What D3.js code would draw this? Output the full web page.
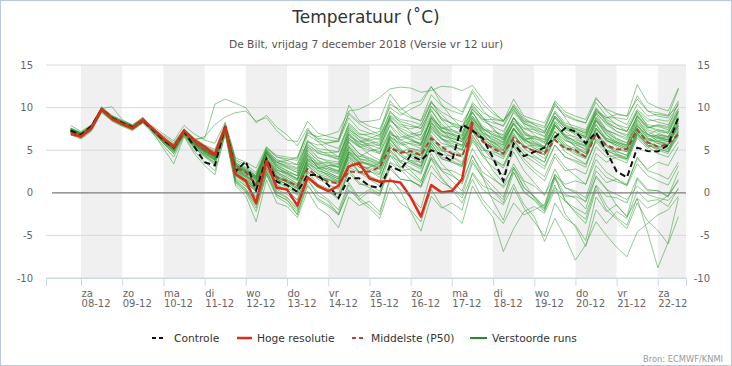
<!DOCTYPE html>
<html><head><meta charset="utf-8">
<script src="https://cdn.jsdelivr.net/npm/d3@7"></script>
<style>body{margin:0;background:#fff}svg{display:block}text{font-family:"DejaVu Sans",Verdana,sans-serif}</style>
</head><body><svg id="c" width="732" height="366"></svg>
<script>
// ---- data ----
const startTime = Date.UTC(2018, 11, 7, 18); // first value: vr 7 dec 18 UTC
const stepHours = 6;
const tickDays = ["2018-12-08","2018-12-09","2018-12-10","2018-12-11","2018-12-12","2018-12-13","2018-12-14","2018-12-15","2018-12-16","2018-12-17","2018-12-18","2018-12-19","2018-12-20","2018-12-21","2018-12-22"];
const dayNames = ["za","zo","ma","di","wo","do","vr","za","zo","ma","di","wo","do","vr","za"];
const dayLabels = ["08-12","09-12","10-12","11-12","12-12","13-12","14-12","15-12","16-12","17-12","18-12","19-12","20-12","21-12","22-12"];
const bandDays = ["2018-12-08","2018-12-10","2018-12-12","2018-12-14","2018-12-16","2018-12-18","2018-12-20","2018-12-22"];
const yTicks = [-10, -5, 0, 5, 10, 15];
const legendNames = ["Controle", "Hoge resolutie", "Middelste (P50)", "Verstoorde runs"];

const controle = [7.3, 6.8,7.8,9.8,8.8, 8.2,7.7,8.5,7.4, 6.2,5.3,7.2,5.4, 3.6,3.2,7.8,2.5, 3.7,0.3,4.0,1.3, 0.9,0.1,2.1,2.1, 0.9,-0.6,1.7,1.7, 0.8,0.6,3.1,2.6, 4.4,3.8,5.0,4.5, 3.7,8.0,7.3,6.4, 4.1,1.4,5.8,4.3, 4.8,5.3,6.5,7.6, 7.2,5.8,7.1,4.9, 2.5,1.8,5.3,4.9, 4.85,5.6,8.9];
const hogeResolutie = [6.9, 6.6,7.6,9.8,8.7, 8.1,7.6,8.6,7.5, 6.4,5.4,7.3,6.2, 5.4,4.5,7.7,2.2, 1.4,-1.2,3.7,0.6, 0.4,-1.5,1.8,0.8, 0.2,0.8,3.1,3.5, 1.7,1.3,1.4,1.2, -0.5,-2.8,0.9,0.05, 0.2,1.6,8.3];
const middelste = [7.2, 6.8,7.7,9.8,8.8, 8.2,7.6,8.4,7.3, 6.2,5.3,7.1,5.9, 5.0,4.3,7.6,3.0, 2.4,1.0,4.0,1.8, 1.4,0.8,2.8,1.9, 1.3,1.1,2.5,2.4, 2.5,3.0,5.3,4.7, 4.9,4.4,6.4,5.4, 4.6,4.3,7.4,6.0, 5.2,4.6,6.4,5.4, 4.9,4.6,6.2,5.2, 5.0,4.2,6.9,5.6, 5.1,5.1,7.4,5.9, 5.4,5.7,6.9];

const verstoordeRuns = [
 [7.3, 6.8,7.7,9.8,8.8, 8.2,7.7,8.5,7.4, 6.3,5.4,7.2,5.9, 5.0,4.3,7.6,2.6, 1.8,0.6,3.8,1.9, 1.2,0.4,3.2,2.2, 1.5,1.0,4.2,3.0, 2.5,2.1,5.4,4.4, 3.6,3.1,6.3,5.1, 4.6,4.2,7.5,6.1, 5.2,4.6,6.7,5.5, 4.9,4.5,6.6,5.3, 4.7,4.1,6.9,5.6, 5.1,4.8,7.3,5.9, 5.5,5.2,7.0],
 [7.6, 7.0,7.9,10.1,9.0, 8.3,7.8,8.6,7.2, 5.9,4.8,7.0,5.5, 4.4,3.6,7.4,1.5, 0.5,-1.5,2.5,0.2, -0.5,-1.8,1.8,0.6, 0.2,-0.6,3.0,2.4, 3.0,3.5,6.8,6.5, 6.8,7.2,9.6,8.1, 7.0,6.4,8.8,7.2, 6.3,5.8,8.4,7.5, 7.1,6.6,9.0,7.9, 7.4,7.0,9.5,8.6, 8.0,7.6,9.8,8.7, 8.3,8.0,9.9],
 [7.0, 6.5,7.4,9.6,8.6, 8.0,7.5,8.4,7.6, 6.7,5.9,7.5,6.4, 5.6,5.1,8.0,3.8, 3.0,2.2,4.9,3.6, 3.1,2.6,5.8,4.7, 4.3,3.9,7.4,6.6, 6.2,5.7,8.9,7.8, 7.5,7.9,10.6,9.5, 8.8,8.3,10.2,8.9, 7.6,6.2,8.0,6.4, 5.5,4.8,7.2,6.1, 5.8,5.5,8.4,7.3, 6.9,6.4,9.0,7.8, 7.2,7.0,9.3],
 [7.9, 7.2,8.0,9.9,10.1, 8.6,7.9,8.7,7.0, 5.2,3.4,6.6,4.6, 3.2,2.1,7.0,1.0, 0.0,-2.2,2.1,-0.5, -1.2,-2.5,1.4,0.1, -0.8,-2.0,1.2,-0.6, -1.5,-2.6,1.6,0.4, -0.5,-1.8,2.4,1.2, 0.6,-0.3,3.5,1.8, -1.0,-3.2,0.6,-1.8, -3.4,-5.1,-1.2,-3.0, -3.8,-5.6,-0.5,-2.2, -1.4,-2.8,1.6,0.2, 0.3,-0.4,2.5],
 [6.8, 6.3,7.2,9.4,8.5, 7.9,7.4,8.2,7.8, 6.9,6.1,7.9,6.9, 6.2,5.8,8.3,4.1, 3.6,2.9,5.4,4.2, 3.8,3.3,6.0,5.6, 5.8,6.2,10.3,8.5, 7.8,7.5,10.0,9.1, 9.8,10.4,12.4,11.0, 10.2,9.5,12.1,10.4, 9.3,8.5,10.1,8.6, 8.0,7.1,9.4,8.0, 7.5,7.0,9.6,8.8, 9.2,9.0,11.0,9.6, 9.4,9.1,10.2],
 [7.4, 6.9,7.8,9.9,8.9, 8.4,7.9,8.9,7.5, 6.2,5.0,7.1,6.3, 6.4,10.4,11.0,10.5, 10.0,8.2,9.1,7.7, 6.8,5.5,7.6,6.0, 5.0,4.2,6.9,5.5, 4.5,3.8,7.2,6.0, 5.2,4.8,8.0,6.8, 6.1,5.5,8.4,7.0, 6.5,6.0,8.8,7.1, 6.2,5.4,7.9,6.6, 5.8,5.0,7.6,6.2, 5.6,5.1,8.2,6.9, 6.4,6.0,8.0],
 [7.1, 6.6,7.5,9.7,8.7, 8.1,7.6,8.6,7.5, 6.4,5.7,7.4,6.2, 6.6,8.0,8.9,9.4, 9.6,8.4,8.8,7.3, 6.2,6.0,8.4,7.0, 6.6,6.3,9.2,8.1, 7.4,6.8,8.6,7.3, 6.4,5.6,7.8,6.3, 5.3,4.4,7.2,5.4, 4.0,3.2,5.8,4.5, 4.2,3.6,6.7,5.2, 4.5,4.0,7.4,6.4, 6.0,5.5,8.6,7.2, 6.6,6.2,7.8],
 [7.2, 6.7,7.6,9.8,8.7, 8.1,7.6,8.4,7.2, 6.0,5.0,7.0,5.6, 4.6,3.8,7.3,2.0, 1.0,-0.6,3.0,0.8, 0.4,-0.9,2.6,1.0, 0.5,-0.2,3.6,2.4, 2.0,1.4,5.0,3.6, 3.0,2.2,5.5,3.4, 2.2,1.0,4.4,2.0, 0.8,-0.5,2.8,0.6, -0.5,-1.8,1.9,-0.2, -0.6,-1.9,2.0,0.5, -1.5,-2.8,-0.7,-4.6, -8.8,-5.8,-0.6],
 [7.5, 7.0,7.8,9.9,9.0, 8.4,7.8,8.5,7.1, 5.8,4.6,6.8,5.3, 4.2,3.3,7.2,1.2, 0.2,-1.8,2.2,-0.3, -0.8,-2.6,0.8,-0.7, -1.4,-2.4,0.9,-0.9, -1.8,-3.0,0.6,-1.2, -2.0,-3.4,0.4,-1.6, -2.4,-3.6,0.8,-1.3, -2.9,-6.9,-4.2,-2.2, -1.6,-2.4,0.3,-1.0, -1.8,-2.5,0.9,-0.4, -0.6,-1.2,1.8,0.4, 0.2,-0.5,1.6],
 [7.0, 6.4,7.3,9.5,8.4, 7.8,7.3,8.2,6.9, 5.5,4.2,6.7,4.9, 3.6,2.6,6.8,0.8, -0.4,-3.4,1.5,-1.2, -1.6,-2.9,0.2,-1.8, -2.6,-4.1,-0.5,-1.5, -1.0,-2.2,1.8,0.2, -2.2,-4.5,-0.4,-1.8, -1.2,-2.0,2.4,0.8, 0.3,-0.8,3.0,1.2, -0.6,-1.9,0.9,-2.5, -4.0,-6.3,-2.0,-3.6, -2.2,-3.0,0.2,-1.0, -0.8,-1.6,0.6],
 [7.2, 6.9,7.7,9.7,8.8, 8.2,7.7,8.6,7.5, 6.5,5.6,7.3,6.0, 5.2,4.4,7.7,2.9, 2.0,1.2,4.0,2.4, 1.5,0.9,3.8,2.6, 2.2,1.6,4.8,3.4, 2.6,1.8,4.4,2.8, 1.5,0.6,3.2,1.6, 0.4,-0.6,2.2,0.4, -0.6,-1.4,1.0,-1.4, -2.8,-5.7,-3.0,-5.2, -7.9,-6.1,-3.4,-5.0, -6.4,-7.5,-4.6,-3.6, -2.6,-2.0,-0.4],
 [7.4, 6.9,7.8,9.8,8.9, 8.3,7.8,8.5,7.3, 6.1,5.2,7.1,5.7, 4.8,4.0,7.5,2.3, 1.3,0.1,3.4,1.3, 0.8,-0.2,2.9,1.6, 1.0,0.4,3.9,2.5, 1.9,1.3,4.8,3.1, 2.1,1.2,4.6,2.6, 1.4,0.2,3.8,1.8, 0.2,-1.2,2.4,0.2, -0.9,-2.2,1.7,-0.8, -2.4,-3.6,0.4,-2.0, -3.1,-4.2,-1.2,-3.3, -4.4,-6.0,-2.8],
 [7.3, 6.7,7.6,9.9,8.8, 8.2,7.6,8.4,7.3, 6.2,5.3,7.3,6.0, 5.2,4.6,7.8,3.3, 2.5,1.6,4.6,3.1, 2.3,1.7,4.9,3.8, 3.0,2.6,5.9,4.6, 4.1,3.6,6.6,5.0, 4.4,3.9,7.2,5.8, 5.5,5.1,8.2,6.6, 5.9,5.4,7.4,6.1, 5.7,5.3,7.6,6.2, 5.6,5.2,8.0,6.4, 5.8,5.3,7.6,6.0, 5.4,5.0,6.8],
 [7.1, 6.6,7.5,9.7,8.6, 8.0,7.5,8.3,7.4, 6.4,5.5,7.3,6.1, 5.1,4.4,7.5,2.1, 1.2,0.3,3.2,1.2, 0.6,-0.3,2.4,1.8, 1.6,1.2,4.8,4.2, 4.9,5.2,8.4,7.6, 7.0,6.8,9.2,7.4, 6.2,5.6,8.0,6.5, 5.4,4.6,6.2,4.8, 4.0,3.1,5.6,4.2, 3.8,3.3,6.2,4.9, 4.5,4.2,7.0,5.6, 5.2,4.8,7.5],
 [7.3, 6.9,7.7,9.8,8.7, 8.1,7.7,8.6,7.4, 6.3,5.5,7.2,5.9, 4.9,4.2,7.6,2.8, 2.2,1.3,4.4,2.8, 2.0,1.4,4.4,3.6, 3.2,3.0,6.4,5.6, 5.8,6.0,9.1,8.4, 8.0,7.5,10.1,8.8, 8.1,7.6,9.8,8.4, 7.8,7.2,9.4,8.1, 7.7,7.3,10.4,9.2, 8.6,8.2,11.0,9.8, 9.3,9.0,12.7,10.6, 10.0,9.6,12.3],
 [7.5, 7.0,7.8,9.9,8.9, 8.3,7.8,8.6,7.3, 6.1,5.1,7.0,5.6, 4.6,3.9,7.3,1.8, 0.8,-0.8,2.8,0.4, -0.2,-1.2,2.0,0.9, 0.2,-0.8,2.7,1.2, 0.6,-0.1,3.1,1.6, 1.4,0.8,4.0,2.6, 2.0,1.2,4.4,2.4, 1.6,0.8,3.4,1.4, 0.8,-0.3,2.8,0.6, 0.2,-0.6,3.2,1.8, 1.3,0.9,4.2,2.6, 2.2,1.6,3.6],
 [7.2, 6.8,7.6,9.7,8.7, 8.2,7.7,8.5,7.5, 6.4,5.6,7.4,6.2, 5.3,4.7,7.9,3.5, 2.9,2.0,5.1,3.8, 3.4,2.9,6.2,5.0, 4.5,4.2,7.6,6.2, 5.4,4.6,7.4,5.8, 5.0,4.6,8.2,7.3, 6.8,6.3,9.4,7.8, 7.0,6.4,8.8,7.2, 6.4,5.8,8.3,6.7, 6.0,5.4,8.6,7.0, 6.3,5.9,8.4,6.8, 6.5,6.2,8.6],
 [7.4, 6.8,7.7,9.8,8.8, 8.2,7.7,8.5,7.4, 6.3,5.3,7.2,5.8, 4.9,4.1,7.4,2.4, 1.6,0.7,3.6,1.6, 1.0,0.1,3.4,2.8, 3.2,3.3,6.6,6.0, 6.4,6.8,10.4,9.7, 10.5,10.8,12.5,10.4, 8.8,7.6,9.5,7.4, 6.0,5.0,7.0,5.2, 4.4,3.6,6.4,4.8, 4.1,3.4,6.0,4.6, 4.0,3.5,6.6,5.4, 5.8,5.6,8.2],
 [7.3, 6.7,7.6,9.8,8.7, 8.1,7.6,8.3,7.1, 5.9,4.8,6.8,5.3, 4.5,3.8,7.1,1.6, 0.8,-0.4,2.9,1.0, 0.2,-0.8,2.3,0.8, 0.4,-0.6,2.4,1.0, 0.9,0.2,3.5,2.6, 2.8,2.4,5.4,4.0, 3.6,3.0,6.0,4.4, 3.8,3.2,5.6,4.0, 2.8,1.9,4.6,3.0, 2.0,1.0,3.9,2.4, 1.6,0.8,3.4,2.0, 1.4,0.9,3.2],
 [7.1, 6.6,7.5,9.6,8.6, 8.0,7.5,8.4,7.5, 6.5,5.7,7.5,6.3, 5.5,4.9,8.1,3.9, 3.3,2.4,5.3,4.4, 4.2,4.0,7.4,6.3, 5.6,5.2,8.0,6.8, 6.9,7.2,10.8,9.4, 8.8,8.5,11.5,10.2, 9.6,9.2,11.8,9.7, 8.4,7.8,9.9,8.2, 7.4,6.6,9.0,7.6, 6.8,6.4,9.3,8.2, 7.6,7.2,9.6,8.4, 8.6,8.4,10.4],
 [7.2, 6.8,7.7,9.8,8.7, 8.1,7.6,8.5,7.3, 6.2,5.2,7.1,5.8, 4.9,4.2,7.5,2.5, 1.9,1.0,4.2,2.5, 1.8,1.1,4.0,3.2, 2.6,2.2,5.4,3.9, 3.2,2.7,5.8,4.3, 3.6,3.0,6.2,4.5, 4.3,3.6,6.8,4.6, 2.6,1.2,3.0,0.6, -0.4,-1.6,2.2,0.6, 0.0,-1.1,2.6,1.2, 1.6,1.0,4.0,2.8, 3.6,3.2,5.4],
 [7.6, 7.1,7.9,10.0,9.1, 8.5,8.0,8.8,7.6, 6.4,5.4,7.3,6.0, 5.2,4.5,7.8,3.1, 2.4,1.5,4.6,3.4, 2.9,2.4,5.6,4.8, 4.7,4.8,7.8,6.5, 6.0,5.5,7.9,6.2, 5.7,5.2,7.8,6.7, 6.4,6.0,8.6,7.4, 7.2,6.8,9.6,8.4, 8.2,7.8,10.2,9.0, 8.5,8.2,10.6,9.0, 8.0,7.2,9.6,7.8, 7.4,7.0,9.5],
 [7.3, 6.8,7.7,9.8,8.8, 8.3,7.8,8.6,7.4, 6.2,5.3,7.2,5.8, 5.0,4.4,7.7,3.0, 2.1,1.1,4.1,2.2, 1.6,0.8,3.9,2.9, 2.4,1.8,5.0,3.7, 3.4,2.8,5.9,4.6, 4.8,4.4,7.4,6.3, 6.0,5.6,8.8,7.5, 6.8,6.2,8.2,6.6, 5.9,5.2,7.9,6.5, 6.2,5.8,8.9,7.4, 6.8,6.2,8.7,6.9, 6.1,5.6,7.9],
 [7.0, 6.5,7.4,9.6,8.5, 7.9,7.4,8.3,7.2, 6.0,5.0,7.0,5.6, 4.7,3.9,7.3,2.2, 1.4,0.4,3.5,1.5, 1.0,0.2,3.3,2.2, 1.8,1.2,4.6,3.5, 3.3,2.9,6.2,4.9, 4.6,4.1,6.8,5.0, 4.2,3.4,6.4,4.2, 3.0,2.1,4.8,2.6, 1.2,-0.2,1.9,-1.0, -2.2,-3.1,0.8,-1.5, -2.9,-3.8,-0.6,-1.8, -1.2,-0.3,1.4],
 [7.4, 6.9,7.8,9.9,8.9, 8.3,7.8,8.7,7.6, 6.5,5.6,7.4,6.2, 5.4,4.8,8.0,3.6, 2.7,1.9,5.0,3.9, 3.5,3.3,6.8,6.0, 5.9,6.0,9.4,8.3, 8.4,8.6,11.6,10.0, 9.0,8.4,10.8,8.6, 7.4,6.7,9.5,7.6, 6.6,5.9,8.1,6.4, 5.3,4.5,7.2,5.4, 5.0,4.3,7.6,6.0, 5.9,5.6,9.2,7.6, 7.9,7.6,9.8],
 [7.1, 6.6,7.5,9.7,8.6, 8.0,7.4,8.3,7.1, 5.8,4.6,6.9,5.2, 4.3,3.4,7.0,1.4, 0.4,-1.0,2.6,0.0, -0.6,-2.0,1.6,-0.3, -1.0,-2.6,0.4,-0.8, 0.2,-0.4,3.6,3.0, 3.8,3.6,6.6,5.4, 5.4,5.0,7.8,6.2, 5.6,5.0,7.6,6.3, 6.4,6.0,8.8,7.6, 7.6,7.2,9.8,8.3, 7.2,6.6,8.9,7.4, 7.0,6.6,8.6],
 [7.3, 6.8,7.7,9.8,8.8, 8.2,7.7,8.5,7.4, 6.2,5.3,7.2,5.9, 5.0,4.3,7.6,2.6, 1.6,0.4,3.6,1.6, 1.0,0.2,3.2,1.8, 1.6,0.9,4.4,3.0, 3.0,2.4,5.6,3.6, 2.6,1.4,4.0,1.8, 0.4,-1.2,1.6,-0.8, -2.2,-3.6,-1.2,-2.6, -2.0,-1.4,2.1,1.0, 1.4,1.0,4.6,3.6, 4.2,4.0,7.0,5.6, 5.0,4.6,7.2],
 [7.2, 6.7,7.6,9.7,8.7, 8.1,7.6,8.4,7.4, 6.3,5.5,7.3,6.0, 5.1,4.5,7.7,3.2, 2.6,1.8,4.8,3.3, 2.6,2.0,5.2,4.1, 3.8,3.6,7.0,5.8, 5.2,4.8,8.0,6.7, 6.2,5.6,8.6,7.2, 6.9,6.6,9.8,8.6, 8.2,7.9,10.4,8.8, 8.0,7.6,10.8,9.5, 9.0,8.6,11.2,9.6, 8.6,8.0,10.4,9.0, 9.2,9.0,12.2],
 [7.5, 7.0,7.8,9.9,8.9, 8.4,7.9,8.6,7.2, 6.0,4.9,6.9,5.4, 4.4,3.5,7.1,1.3, 0.2,-1.4,2.4,-0.2, -0.9,-2.2,1.0,-0.9, -1.6,-2.6,0.2,-0.4, 0.4,-0.2,2.8,1.6, 1.4,0.8,4.2,2.8, 2.6,2.0,5.2,3.2, 1.8,0.6,2.4,0.0, -0.8,-2.0,0.6,-0.4, -0.4,-1.0,1.8,0.4, -0.2,-0.8,0.8,-0.2, -0.6,-0.9,0.4],
 [7.3, 6.8,7.7,9.8,8.7, 8.1,7.6,8.5,7.4, 6.3,5.4,7.2,5.9, 5.0,4.3,7.5,2.9, 2.3,1.4,4.4,2.7, 2.2,1.5,4.7,3.4, 3.0,2.5,5.6,4.3, 4.0,3.5,6.4,4.6, 3.8,3.2,6.0,4.9, 4.8,4.5,7.6,6.0, 5.4,4.9,7.5,6.2, 5.8,5.4,8.2,6.8, 6.0,5.6,8.4,6.8, 5.8,5.2,7.8,6.4, 6.0,5.6,7.6],
 [7.2, 6.7,7.6,9.8,8.8, 8.2,7.6,8.4,7.2, 6.0,5.0,7.0,5.6, 4.8,4.0,7.4,2.2, 1.4,0.5,3.6,2.0, 1.3,0.6,3.8,3.0, 2.8,2.5,6.2,5.4, 5.0,4.6,7.2,5.2, 4.2,3.5,5.8,4.0, 3.6,3.2,6.2,5.0, 4.8,4.4,7.4,6.2, 6.6,6.3,9.0,7.6, 7.2,6.8,9.2,7.4, 6.4,5.8,8.0,6.6, 6.8,6.5,8.8],
 [7.4, 6.9,7.7,9.8,8.8, 8.3,7.8,8.6,7.4, 6.2,5.2,7.1,5.7, 4.9,4.1,7.5,2.7, 2.0,1.0,4.0,2.4, 1.8,1.0,4.2,3.3, 2.8,2.3,5.4,4.0, 3.6,3.1,6.3,4.8, 5.2,5.0,8.2,6.9, 6.4,6.0,8.4,6.8, 5.8,5.2,7.6,6.0, 5.2,4.8,7.2,5.8, 4.8,4.2,7.0,5.4, 4.9,4.4,7.1,5.6, 5.2,4.8,6.6],
 [7.3, 6.8,7.7,9.9,8.8, 8.2,7.7,8.5,7.4, 6.3,5.4,7.3,6.0, 5.1,4.4,7.7,3.0, 2.4,1.6,4.7,3.6, 3.8,4.2,7.0,6.6, 6.8,7.2,9.6,9.8, 10.4,11.2,12.2,12.4, 12.3,11.8,12.0,12.5, 12.4,12.0,12.6,11.0, 9.6,8.4,9.8,8.0, 6.8,5.9,8.0,6.4, 5.4,4.6,6.8,5.0, 4.4,3.8,6.4,5.2, 6.2,6.0,8.4],
 [7.0, 6.5,7.4,9.6,8.6, 8.0,7.5,8.3,7.3, 6.2,5.3,7.2,5.9, 5.1,4.5,7.6,3.4, 2.6,1.8,4.8,3.0, 2.4,1.6,4.6,2.9, 2.0,1.3,4.2,2.4, 1.6,0.8,4.4,3.6, 4.6,4.4,7.6,6.3, 5.8,5.4,7.2,5.2, 3.8,2.9,5.4,3.6, 2.4,1.4,4.2,2.6, 2.8,2.2,5.4,4.2, 4.4,4.0,6.8,5.4, 4.6,4.2,6.0],
 [7.5, 7.0,7.9,10.0,9.0, 8.4,7.9,8.7,7.5, 6.4,5.5,7.4,6.1, 5.3,4.6,7.9,3.3, 2.7,1.9,5.0,3.6, 3.0,2.3,5.4,4.2, 3.6,3.0,6.0,4.6, 3.8,3.2,6.6,5.6, 5.8,5.5,8.8,7.6, 7.4,7.0,10.0,8.6, 8.6,8.4,11.0,9.0, 8.6,8.2,10.6,8.8, 7.2,6.4,8.6,6.8, 6.0,5.4,7.6,6.2, 6.8,6.6,9.0],
 [7.2, 6.7,7.6,9.8,8.7, 8.1,7.6,8.5,7.4, 6.3,5.4,7.2,5.9, 5.0,4.3,7.6,2.8, 2.0,1.0,4.0,2.6, 2.4,2.0,5.4,4.6, 4.4,4.0,7.2,6.2, 5.6,5.2,8.6,7.4, 6.6,6.2,9.0,7.6, 7.2,6.8,9.0,7.6, 6.8,6.4,8.8,7.6, 7.4,7.0,9.6,8.2, 7.8,7.4,10.0,8.4, 7.6,7.2,9.4,8.0, 7.8,7.4,9.6],
 [7.4, 6.9,7.8,9.9,8.8, 8.3,7.8,8.6,7.3, 6.1,5.1,7.0,5.6, 4.7,3.9,7.3,2.0, 1.2,0.2,3.3,1.6, 1.4,0.8,4.0,3.4, 3.6,3.4,6.8,5.8, 6.2,6.4,9.6,8.2, 7.2,6.4,8.4,6.4, 5.6,5.0,7.8,6.4, 6.0,5.6,8.2,6.8, 6.6,6.2,8.8,7.2, 6.4,5.8,8.0,6.2, 5.4,4.8,7.2,6.0, 6.6,6.4,8.8],
 [7.1, 6.6,7.5,9.7,8.7, 8.1,7.6,8.4,7.4, 6.4,5.6,7.4,6.1, 5.2,4.6,7.8,3.4, 2.8,2.0,5.2,4.2, 4.0,3.8,7.2,6.4, 6.2,6.0,8.8,7.4, 7.0,6.6,9.4,8.6, 8.4,8.0,10.6,9.2, 8.0,7.2,9.0,7.0, 5.6,4.6,6.8,5.4, 5.0,4.4,7.8,6.8, 6.6,6.0,8.8,7.2, 6.2,5.6,8.0,6.4, 5.8,5.2,7.2],
 [7.3, 6.8,7.7,9.8,8.8, 8.2,7.7,8.5,7.4, 6.2,5.3,7.2,5.9, 5.0,4.3,7.6,2.7, 1.8,0.8,3.9,2.0, 1.4,0.6,3.6,2.6, 2.2,1.6,4.6,3.2, 2.8,2.2,5.0,3.8, 3.4,2.8,5.8,4.2, 3.8,3.2,6.6,5.2, 4.6,4.0,6.2,4.4, 3.6,2.8,5.6,4.2, 3.6,3.0,6.4,5.0, 4.8,4.4,7.4,6.2, 6.0,5.8,7.8],
 [7.5, 7.0,7.9,10.0,8.9, 8.3,7.8,8.6,7.5, 6.3,5.4,7.3,6.0, 5.0,4.3,7.7,3.2, 2.6,1.8,4.8,3.6, 3.2,2.8,6.0,5.2, 5.0,4.8,8.2,7.0, 6.6,6.2,8.8,7.0, 6.2,5.8,8.8,7.6, 7.8,7.6,10.6,9.4, 8.8,8.4,10.2,8.4, 7.6,7.0,9.4,7.8, 7.0,6.6,9.8,8.8, 8.8,8.6,11.4,9.6, 9.0,8.8,10.8],
 [7.2, 6.7,7.6,9.7,8.7, 8.1,7.6,8.5,7.3, 6.1,5.2,7.1,5.8, 4.9,4.2,7.5,2.4, 1.5,0.5,3.7,1.8, 1.2,0.5,3.5,2.4, 2.0,1.4,4.8,3.6, 3.4,3.0,6.6,5.8, 6.0,5.8,8.8,7.2, 6.6,6.0,8.2,6.2, 5.0,4.2,6.6,5.4, 5.6,5.2,8.0,6.6, 5.4,4.8,7.2,5.6, 4.6,4.0,6.8,5.8, 6.4,6.2,8.2],
 [7.4, 6.9,7.8,9.9,8.9, 8.3,7.8,8.6,7.4, 6.3,5.4,7.3,6.0, 5.1,4.4,7.7,3.1, 2.5,1.7,4.7,3.2, 2.6,2.0,5.0,3.8, 3.4,3.0,6.4,5.4, 5.6,5.6,9.0,8.0, 7.8,7.6,9.8,7.8, 6.8,6.2,8.6,7.0, 6.2,5.6,7.6,5.6, 4.8,4.0,6.8,5.6, 5.2,4.6,7.6,6.2, 5.6,5.0,7.8,6.8, 7.4,7.2,9.6],
 [7.0, 6.5,7.4,9.6,8.6, 8.0,7.5,8.4,7.3, 6.2,5.3,7.2,5.9, 5.0,4.4,7.6,3.2, 2.4,1.6,4.6,3.0, 2.2,1.6,4.4,3.0, 2.4,1.8,5.2,4.0, 3.8,3.4,7.0,6.2, 6.6,6.8,10.2,8.6, 8.2,7.8,10.4,8.8, 7.4,6.6,8.8,7.0, 6.0,5.4,8.4,7.4, 7.0,6.6,9.4,8.0, 7.2,6.8,9.0,7.6, 8.0,7.8,10.6]
];

// ---- chart ----
const W = 732, H = 366;
const svg = d3.select("#c");
const plotL = 46, plotR = 686, plotT = 65, plotB = 278;
const x = d3.scaleUtc()
  .domain([new Date(Date.UTC(2018,11,7,3,36)), new Date(Date.UTC(2018,11,22,16,24))])
  .range([plotL, plotR]);
const y = d3.scaleLinear().domain([-10, 15]).range([plotB, plotT]);
const timeAt = i => new Date(startTime + i * stepHours * 3600e3);
const parseDay = s => new Date(s + "T00:00:00Z");

svg.append("rect").attr("x",0.5).attr("y",0.5).attr("width",W-1).attr("height",H-1)
  .attr("fill","#fff").attr("stroke","#b9c9d9");

// bands
svg.append("g").selectAll("rect").data(bandDays).join("rect")
  .attr("x", d => x(parseDay(d)))
  .attr("y", y(15))
  .attr("width", d => Math.min(x(d3.utcDay.offset(parseDay(d),1)), plotR) - x(parseDay(d)))
  .attr("height", y(-10) - y(15))
  .attr("fill", "#f0f0f0");

// grid
svg.append("g").selectAll("line").data(yTicks.filter(t => t !== 0)).join("line")
  .attr("x1", plotL).attr("x2", plotR)
  .attr("y1", d => y(d)).attr("y2", d => y(d))
  .attr("stroke", "#d9d9d9").attr("stroke-width", 1);

// y labels
const yl = svg.append("g").attr("font-size", 10).attr("fill", "#666");
yl.selectAll("text.l").data(yTicks).join("text").attr("class","l")
  .attr("x", 33).attr("y", d => y(d)).attr("dy","0.35em").attr("text-anchor","end").text(d => d);
yl.selectAll("text.r").data(yTicks).join("text").attr("class","r")
  .attr("x", 710).attr("y", d => y(d)).attr("dy","0.35em").attr("text-anchor","end").text(d => d);

// x axis
const xa = svg.append("g").attr("transform", `translate(0,${plotB})`)
  .call(d3.axisBottom(x).tickValues(tickDays.map(parseDay)).tickSize(8).tickFormat(""));
xa.select(".domain").attr("stroke", "#ccd6eb");
xa.selectAll(".tick line").attr("stroke", "#ccd6eb");
const xl = svg.append("g").attr("font-size", 10).attr("fill", "#666");
tickDays.forEach((d, k) => {
  const t = xl.append("text").attr("x", x(parseDay(d)) + 0.5).attr("text-anchor", "start");
  t.append("tspan").attr("x", x(parseDay(d)) + 0.5).attr("y", 296.5).text(dayNames[k]);
  t.append("tspan").attr("x", x(parseDay(d)) + 0.5).attr("y", 306.5).text(dayLabels[k]);
});

// lines
svg.append("clipPath").attr("id","pc").append("rect")
  .attr("x",plotL).attr("y",plotT-5).attr("width",plotR-plotL).attr("height",plotB-plotT+5);
const lineGen = d3.line().x((d, i) => x(timeAt(i))).y(d => y(d));
const pl = svg.append("g").attr("clip-path","url(#pc)");
pl.selectAll("path.m").data(verstoordeRuns).join("path").attr("class","m")
  .attr("d", lineGen).attr("fill","none").attr("stroke","#2f9a2f")
  .attr("stroke-opacity",0.52).attr("stroke-width",1).attr("stroke-linejoin","round");

// zero line
svg.append("line").attr("x1", 52).attr("x2", plotR).attr("y1", y(0)).attr("y2", y(0))
  .attr("stroke", "#7a7a7a").attr("stroke-width", 1.2);

pl.append("path").datum(middelste).attr("d", lineGen).attr("fill","none")
  .attr("stroke","#a8483a").attr("stroke-width",2).attr("stroke-dasharray","5,3");
pl.append("path").datum(controle).attr("d", lineGen).attr("fill","none")
  .attr("stroke","#111").attr("stroke-width",2).attr("stroke-dasharray","6,3.5");
pl.append("path").datum(hogeResolutie).attr("d", lineGen).attr("fill","none")
  .attr("stroke","#e02a1c").attr("stroke-width",2.5).attr("stroke-linejoin","round");

// titles
svg.append("text").attr("x", 366).attr("y", 23).attr("text-anchor","middle")
  .attr("font-size", 17).attr("fill","#333").text("Temperatuur (˚C)");
svg.append("text").attr("x", 366).attr("y", 48).attr("text-anchor","middle")
  .attr("font-size", 10.7).attr("fill","#555").text("De Bilt, vrijdag 7 december 2018 (Versie vr 12 uur)");

// legend
const legItems = [
  {name: legendNames[0], x1:152, x2:166, tx:174, color:"#111", dash:"4,3", w:2},
  {name: legendNames[1], x1:237, x2:252, tx:257, color:"#e02a1c", dash:null, w:2.5},
  {name: legendNames[2], x1:352, x2:366, tx:371, color:"#a8483a", dash:"4,3", w:2},
  {name: legendNames[3], x1:470, x2:487, tx:492, color:"#2a8a2a", dash:null, w:2}
];
const lg = svg.append("g");
legItems.forEach(it => {
  const l = lg.append("line").attr("x1", it.x1).attr("x2", it.x2).attr("y1", 338).attr("y2", 338)
    .attr("stroke", it.color).attr("stroke-width", it.w);
  if (it.dash) l.attr("stroke-dasharray", it.dash);
  lg.append("text").attr("x", it.tx).attr("y", 342).attr("font-size", 10.7).attr("fill","#333").text(it.name);
});

svg.append("text").attr("x", 723).attr("y", 362).attr("text-anchor","end")
  .attr("font-size", 8.3).attr("fill","#999").text("Bron: ECMWF/KNMI");
</script></body></html>
